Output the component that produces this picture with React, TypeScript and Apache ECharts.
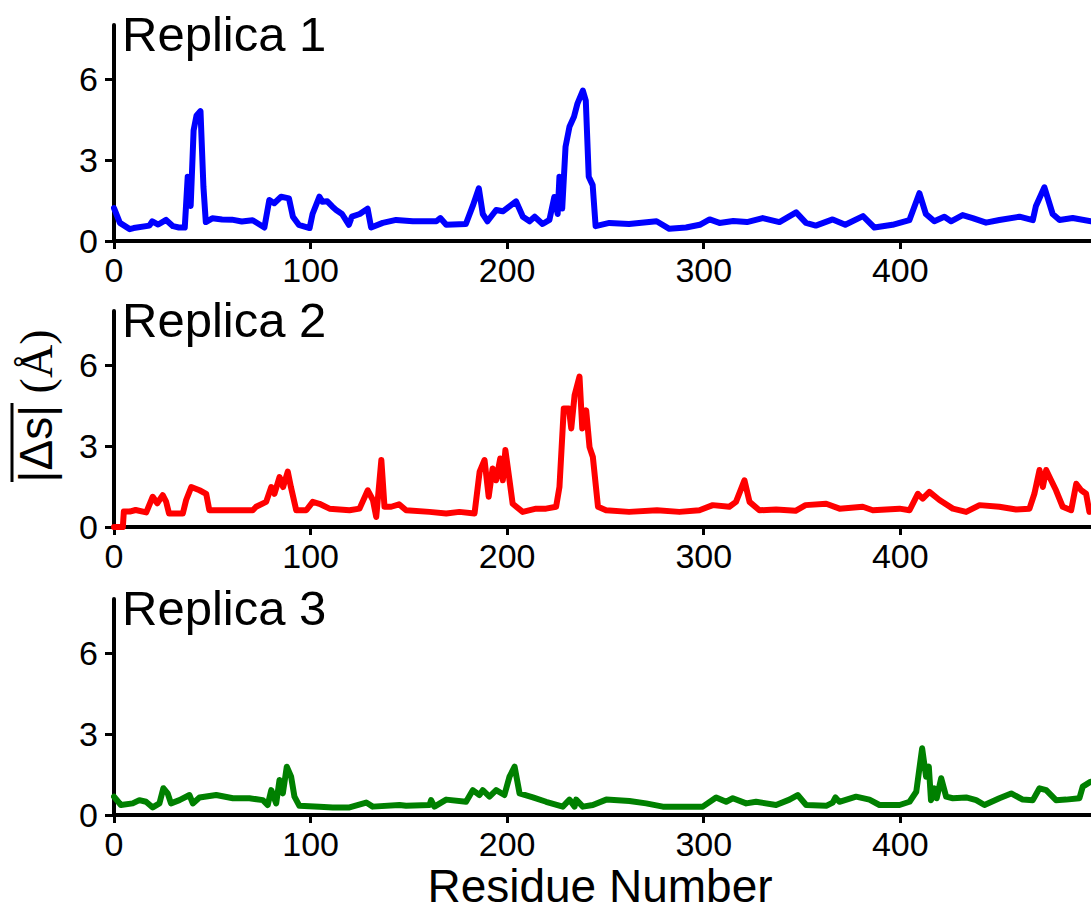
import React, { useEffect, useRef } from "react";
import * as echarts from "echarts";

const xTicks = [0, 100, 200, 300, 400];
const yTicks = [0, 3, 6];
const titles = ["Replica 1", "Replica 2", "Replica 3"];
const colors = ["#0000ff", "#ff0000", "#008000"];

const r1x = [0, 3, 8, 10, 18, 19.5, 22.5, 26.5, 30, 33, 36, 37.5, 39, 40.5, 42, 44, 45.5, 46.7, 50, 55, 60, 65, 70.5, 76.5, 79, 81.5, 85, 89, 91, 94, 99.5, 101, 104.5, 106, 108.5, 111, 113, 116, 119.5, 121, 125, 129, 130.8, 136.7, 143.5, 152, 164, 166, 169, 179, 182.5, 185.6, 187.6, 190, 194.4, 197.8, 202, 204.5, 208, 211.4, 214, 218, 221.5, 224, 225.7, 226.6, 228, 229.7, 231.7, 234, 235.8, 238.5, 240, 241.5, 243.5, 245, 252, 262, 276, 282.5, 291, 298, 303, 308, 315, 322, 330, 338.5, 347, 352, 357, 365.6, 372, 381, 386.8, 396, 404.6, 409.7, 413, 417.3, 422.4, 425.8, 431.7, 436.8, 443.6, 450.4, 460.6, 467.4, 469, 473.3, 477.5, 481, 487.7, 497];
const r1y = [1.22, 0.67, 0.44, 0.48, 0.57, 0.73, 0.61, 0.78, 0.55, 0.5, 0.5, 2.38, 1.3, 4.1, 4.65, 4.81, 2.0, 0.7, 0.84, 0.8, 0.79, 0.72, 0.77, 0.5, 1.52, 1.4, 1.64, 1.58, 0.9, 0.6, 0.48, 1.0, 1.64, 1.45, 1.47, 1.28, 1.15, 1.0, 0.6, 0.9, 1.0, 1.2, 0.5, 0.67, 0.78, 0.73, 0.73, 0.85, 0.6, 0.63, 1.3, 1.95, 1.0, 0.73, 1.15, 1.1, 1.33, 1.47, 0.9, 0.73, 0.9, 0.63, 0.78, 1.63, 1.0, 2.38, 1.2, 3.49, 4.23, 4.6, 5.1, 5.57, 5.2, 2.38, 2.07, 0.55, 0.67, 0.63, 0.73, 0.45, 0.5, 0.6, 0.8, 0.67, 0.74, 0.7, 0.85, 0.7, 1.06, 0.67, 0.57, 0.8, 0.6, 0.92, 0.5, 0.6, 0.77, 1.77, 1.0, 0.73, 0.9, 0.73, 0.96, 0.85, 0.68, 0.78, 0.9, 0.77, 1.3, 1.99, 1.0, 0.78, 0.85, 0.73];

const r2x = [0, 4.5, 5, 8, 11, 16.4, 19.7, 22, 24.8, 26.5, 28, 35, 36.7, 39.3, 43.5, 46.9, 48.5, 60, 70.6, 72.3, 77.4, 80, 81.6, 84.2, 86, 88.4, 90, 92.7, 97.8, 101.1, 104.5, 109.6, 119.8, 124.9, 129.1, 131.7, 133.4, 136, 137.6, 141, 145, 148.6, 160.5, 169, 175.7, 183.4, 186, 188.5, 190.6, 192.6, 194.4, 196.5, 197.8, 199.1, 201.2, 202.8, 207.9, 214.7, 219.8, 224.9, 226.6, 228.8, 231.4, 232.6, 234.3, 236.8, 238.2, 240.2, 241.9, 243.6, 246.2, 250.3, 262, 276.2, 287.6, 297.8, 304.6, 313, 316.4, 320.7, 323.3, 328.3, 336.8, 346.7, 351.8, 362.3, 369.1, 380.9, 386, 399.6, 404.7, 408.9, 411.4, 414.8, 419.9, 426.7, 433.5, 440.3, 450.4, 458.9, 465.7, 468.2, 470.8, 472.5, 474.2, 476.7, 479.2, 482.6, 486.9, 489.5, 492, 494.5, 496.2];
const r2y = [0, 0, 0.57, 0.57, 0.63, 0.54, 1.12, 0.88, 1.18, 0.94, 0.5, 0.5, 1.0, 1.48, 1.36, 1.23, 0.62, 0.62, 0.62, 0.75, 0.93, 1.48, 1.23, 1.85, 1.48, 2.05, 1.48, 0.62, 0.62, 0.93, 0.86, 0.68, 0.62, 0.68, 1.36, 1.0, 0.37, 2.48, 0.75, 0.75, 0.84, 0.62, 0.56, 0.5, 0.56, 0.5, 2.05, 2.48, 1.12, 2.17, 1.73, 2.54, 1.73, 2.85, 1.73, 0.86, 0.56, 0.68, 0.68, 0.75, 1.48, 4.39, 4.39, 3.65, 4.88, 5.57, 3.65, 4.32, 2.96, 2.59, 0.75, 0.62, 0.56, 0.62, 0.56, 0.62, 0.81, 0.75, 0.93, 1.73, 0.93, 0.62, 0.65, 0.6, 0.81, 0.86, 0.68, 0.75, 0.62, 0.68, 0.62, 1.23, 1.05, 1.3, 1.0, 0.68, 0.56, 0.81, 0.75, 0.65, 0.68, 1.23, 2.11, 1.48, 2.11, 1.73, 1.36, 0.75, 0.62, 1.6, 1.36, 1.23, 0.56];

const r3x = [0, 3.5, 9.5, 12.9, 16.3, 19.7, 23.1, 25.1, 27.3, 29, 33.3, 38.4, 40.1, 43.5, 52, 60.5, 68.9, 75.7, 78.2, 80, 82.5, 84.2, 85.9, 87.9, 90.1, 91.8, 94.3, 104.5, 111.3, 119.8, 128.3, 131.6, 145.2, 148.6, 160.5, 161.3, 163, 169, 179.1, 182.5, 185.9, 187.6, 191, 194.4, 198.6, 201.2, 203.8, 206.3, 213.1, 219.8, 228.3, 231.7, 234.3, 235.1, 238.5, 243.6, 250.4, 262.2, 270.7, 279.2, 299.5, 306.3, 311.4, 314.8, 321.6, 326.6, 336.8, 343.6, 347.8, 352.1, 362.3, 365.6, 367, 369, 377.5, 384.3, 389.4, 399.6, 404.7, 408.1, 411.1, 413.1, 414.5, 415.6, 417.3, 418.5, 420.8, 423.3, 426.7, 433.5, 438.6, 442.8, 450.4, 456.4, 462.3, 467.4, 470.8, 474.2, 479.2, 484.3, 491.1, 492.8, 496.7];
const r3y = [0.68, 0.37, 0.43, 0.55, 0.49, 0.28, 0.43, 0.99, 0.8, 0.43, 0.55, 0.74, 0.43, 0.65, 0.74, 0.62, 0.62, 0.55, 0.37, 0.92, 0.43, 1.3, 0.8, 1.79, 1.42, 0.68, 0.34, 0.31, 0.28, 0.28, 0.46, 0.31, 0.37, 0.34, 0.37, 0.55, 0.31, 0.57, 0.49, 0.92, 0.74, 0.92, 0.68, 0.92, 0.74, 1.42, 1.79, 0.8, 0.65, 0.49, 0.31, 0.57, 0.31, 0.57, 0.31, 0.37, 0.57, 0.52, 0.43, 0.31, 0.31, 0.65, 0.49, 0.62, 0.43, 0.49, 0.37, 0.57, 0.74, 0.37, 0.34, 0.46, 0.65, 0.49, 0.68, 0.57, 0.37, 0.37, 0.49, 0.86, 2.47, 1.42, 1.79, 0.55, 0.99, 0.62, 1.36, 0.68, 0.62, 0.65, 0.55, 0.37, 0.62, 0.8, 0.57, 0.55, 0.99, 0.92, 0.55, 0.57, 0.62, 1.05, 1.23];

const seriesX = [r1x, r2x, r3x];
const seriesY = [r1y, r2y, r3y];

const SANS = "Liberation Sans, Arial, sans-serif";
const SERIF = "Liberation Serif, Times New Roman, serif";

export default function App() {
  const ref = useRef<HTMLDivElement>(null);
  useEffect(() => {
    if (!ref.current) return;
    const chart = echarts.init(ref.current, undefined, { renderer: "svg" });
    const tops = [25, 311, 599];
    const grids = tops.map((t) => ({ left: 114, width: 977, top: t, height: 216 }));
    const xAxes = tops.map((_, i) => ({
      gridIndex: i,
      type: "value",
      min: 0,
      max: 497,
      axisLine: { show: true, onZero: false, lineStyle: { color: "#000", width: 4 } },
      axisTick: { show: true, length: 8, customValues: xTicks, lineStyle: { color: "#000", width: 3 } },
      axisLabel: { customValues: xTicks, fontSize: 34, color: "#000", fontFamily: SANS, margin: 12 },
      splitLine: { show: false },
    }));
    const yAxes = tops.map((_, i) => ({
      gridIndex: i,
      type: "value",
      min: 0,
      max: 8,
      axisLine: { show: true, onZero: false, lineStyle: { color: "#000", width: 4 } },
      axisTick: { show: true, length: 9, customValues: yTicks, lineStyle: { color: "#000", width: 3 } },
      axisLabel: { customValues: yTicks, fontSize: 34, color: "#000", fontFamily: SANS, margin: 16 },
      splitLine: { show: false },
    }));
    const series = seriesX.map((xs, i) => ({
      type: "line",
      xAxisIndex: i,
      yAxisIndex: i,
      data: xs.map((x, j) => [x, seriesY[i][j]]),
      showSymbol: false,
      symbol: "none",
      lineStyle: { color: colors[i], width: 6, join: "round", cap: "round" },
      itemStyle: { color: colors[i] },
    }));
    const graphic: any[] = tops.map((t, i) => ({
      type: "text",
      x: 122,
      y: t + 9,
      style: {
        text: titles[i],
        fontSize: 49,
        fontFamily: SANS,
        fill: "#000",
        align: "left",
        verticalAlign: "middle",
      },
    }));
    graphic.push({
      type: "text",
      x: 36,
      y: 406,
      rotation: Math.PI / 2,
      style: {
        text: "{a||Δs|}{b| (Å)}",
        align: "center",
        verticalAlign: "middle",
        fill: "#000",
        rich: {
          a: { fontSize: 46, fontFamily: SANS, fill: "#000" },
          b: { fontSize: 46, fontFamily: SERIF, fill: "#000" },
        },
      },
    });
    graphic.push({
      type: "line",
      shape: { x1: 12, y1: 403, x2: 12, y2: 482 },
      style: { stroke: "#000", lineWidth: 3 },
    });
    graphic.push({
      type: "text",
      x: 600,
      y: 886,
      style: {
        text: "Residue Number",
        fontSize: 46,
        fontFamily: SANS,
        fill: "#000",
        align: "center",
        verticalAlign: "middle",
      },
    });
    chart.setOption({
      animation: false,
      backgroundColor: "#fff",
      grid: grids,
      xAxis: xAxes,
      yAxis: yAxes,
      series,
      graphic,
    });
    return () => chart.dispose();
  }, []);
  return (
    <div
      ref={ref}
      style={{ position: "absolute", left: 0, top: 0, width: 1091, height: 911 }}
    />
  );
}
